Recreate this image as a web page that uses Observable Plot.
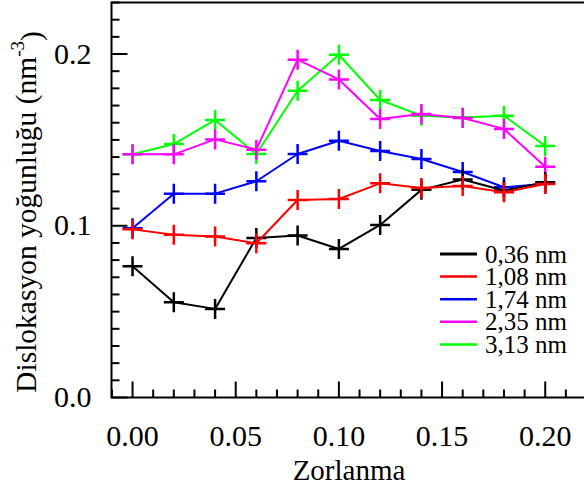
<!DOCTYPE html>
<html>
<head>
<meta charset="utf-8">
<script src="https://cdn.jsdelivr.net/npm/d3@7"></script>
<script src="https://cdn.jsdelivr.net/npm/@observablehq/plot@0.6"></script>
<style>
  html, body { margin: 0; padding: 0; background: #fff; overflow: hidden; }
  #chart { position: relative; width: 590px; height: 488px; }
</style>
</head>
<body>
<div id="chart"></div>
<script>
// ---- data ----
const strain = [0.00, 0.02, 0.04, 0.06, 0.08, 0.10, 0.12, 0.14, 0.16, 0.18, 0.20];
const s036 = [0.0764, 0.0555, 0.0516, 0.0929, 0.0943, 0.0865, 0.1005, 0.1209, 0.1269, 0.1205, 0.1253];
const s108 = [0.0979, 0.0947, 0.0937, 0.0898, 0.1150, 0.1156, 0.1247, 0.1220, 0.1232, 0.1195, 0.1243];
const s174 = [0.0985, 0.1187, 0.1187, 0.1259, 0.1418, 0.1495, 0.1435, 0.1389, 0.1313, 0.1224, 0.1245];
const s235 = [0.1416, 0.1416, 0.1503, 0.1443, 0.1967, 0.1852, 0.1622, 0.1651, 0.1628, 0.1564, 0.1344];
const s313 = [0.1416, 0.1476, 0.1616, 0.1418, 0.1786, 0.1996, 0.1732, 0.1641, 0.1631, 0.1641, 0.1465];
const seriesNames = ["0,36 nm", "1,08 nm", "1,74 nm", "2,35 nm", "3,13 nm"];
const seriesValues = [s036, s108, s174, s235, s313];
const xTicks = [0.00, 0.05, 0.10, 0.15, 0.20];
const yTicks = [0.0, 0.1, 0.2];
const xTitle = "Zorlanma";
const yTitle = "Dislokasyon yoğunluğu (nm";
const yTitleSup = "-3";

// ---- styles ----
const colors = ["#000000", "#ff0000", "#0000ff", "#ff00ff", "#00ff00"];
const drawOrder = [4, 3, 2, 0, 1];
const font = "'Liberation Serif', 'Times New Roman', serif";

const rows = seriesNames.flatMap((name, i) =>
  strain.map((x, j) => ({series: name, x, y: seriesValues[i][j]})));

const xDomain = [-0.0102, 0.22];
const yDomain = [0, 0.23];
const xMinor = d3.range(-0.01, 0.2201, 0.01).map(v => +v.toFixed(2)).filter(v => !xTicks.some(t => Math.abs(t - v) < 1e-9));
const yMinor = d3.range(0.01, 0.2301, 0.01).map(v => +v.toFixed(2)).filter(v => !yTicks.some(t => Math.abs(t - v) < 1e-9));

const plus = {draw(c) { c.moveTo(-10, 0); c.lineTo(10, 0); c.moveTo(0, -10); c.lineTo(0, 10); }};
const hTick = L => ({draw(c) { c.moveTo(0, 0); c.lineTo(L, 0); }});
const vTick = L => ({draw(c) { c.moveTo(0, 0); c.lineTo(0, -L); }});

const seriesMarks = drawOrder.flatMap(i => {
  const d = rows.filter(r => r.series === seriesNames[i]);
  return [
    Plot.line(d, {x: "x", y: "y", stroke: colors[i], strokeWidth: 2}),
    Plot.dot(d, {x: "x", y: "y", symbol: plus, r: 10, fill: "none", stroke: colors[i], strokeWidth: 2.5})
  ];
});

const chart = Plot.plot({
  width: 590,
  height: 488,
  marginLeft: 111,
  marginRight: 4,
  marginTop: 2,
  marginBottom: 91,
  style: {fontFamily: font, fontSize: "29px", background: "#fff", color: "#000", overflow: "visible", maxWidth: "none"},
  x: {domain: xDomain, axis: null},
  y: {domain: yDomain, axis: null},
  marks: [
    ...seriesMarks,
    Plot.dot(yMinor, {x: xDomain[0], y: d => d, symbol: hTick(8), fill: "none", stroke: "#000", strokeWidth: 2}),
    Plot.dot(yTicks, {x: xDomain[0], y: d => d, symbol: hTick(16), fill: "none", stroke: "#000", strokeWidth: 2}),
    Plot.dot(xMinor, {x: d => d, y: 0, symbol: vTick(8), fill: "none", stroke: "#000", strokeWidth: 2}),
    Plot.dot(xTicks, {x: d => d, y: 0, symbol: vTick(16), fill: "none", stroke: "#000", strokeWidth: 2}),
    Plot.frame({stroke: "#000", strokeWidth: 2}),
    Plot.axisX(xTicks, {tickSize: 0, tickPadding: 27, tickFormat: d3.format(".2f"), label: null, fontSize: 30}),
    Plot.axisY(yTicks, {tickSize: 0, tickPadding: 20, tickFormat: d3.format(".1f"), label: null, fontSize: 30}),
    Plot.text([xTitle], {frameAnchor: "bottom", text: d => d, dy: 73, lineAnchor: "middle", fontSize: 29})
  ]
});
document.getElementById("chart").appendChild(chart);

// y title with superscript
const svg = d3.select(chart);
const yt = svg.append("text")
  .attr("transform", "translate(26,212) rotate(-90)")
  .attr("text-anchor", "middle")
  .attr("dominant-baseline", "central")
  .style("font-family", font)
  .style("font-size", "29.5px")
  .attr("fill", "#000");
yt.append("tspan").text(yTitle);
yt.append("tspan").attr("dy", "-0.45em").style("font-size", "19px").text(yTitleSup);
yt.append("tspan").attr("dy", "0.45em").text(")");

// legend
const lg = svg.append("g");
seriesNames.forEach((name, i) => {
  const yy = 254 + 22.6 * i;
  lg.append("line").attr("x1", 440).attr("x2", 477).attr("y1", yy).attr("y2", yy)
    .attr("stroke", colors[i]).attr("stroke-width", i === 0 ? 3 : 2.5);
  lg.append("text").attr("x", 485).attr("y", yy + 8.5)
    .attr("text-anchor", "start")
    .style("font-family", font).style("font-size", "25px").attr("fill", "#000").text(name);
});
</script>
</body>
</html>
